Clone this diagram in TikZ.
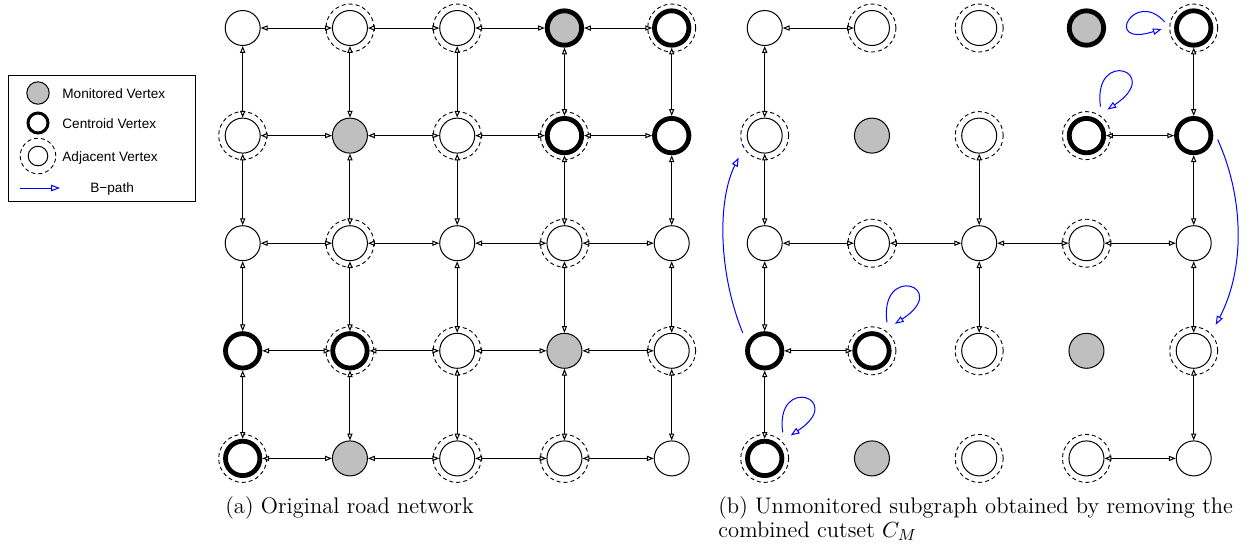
\documentclass[tikz,border=0pt]{standalone}
\usepackage{fontspec}
\newfontfamily\legfont{Liberation Sans}
\usetikzlibrary{arrows.meta,calc}
\begin{document}
\begin{tikzpicture}[x=0.5pt,y=-0.5pt,
  vtx/.style={circle,draw,line width=0.5pt,inner sep=0pt,minimum size=17.5pt,fill=white},
  mon/.style={fill=black!25},
  cen/.style={line width=2.4pt,minimum size=17.2pt},
  ringst/.style={circle,draw,fill=none,line width=0.45pt,dash pattern=on 2pt off 1.5pt,inner sep=0pt,minimum size=24pt},
  ringed/.style={label={[ringst]center:}},
  tP/.style={},
  tA/.style={ringed},
  tM/.style={mon},
  tC/.style={cen},
  tMC/.style={mon,cen},
  tCA/.style={cen,ringed},
  edge/.style={line width=0.5pt,{Triangle[length=3.4pt,width=2.6pt,fill=white]}-{Triangle[length=3.4pt,width=2.6pt,fill=white]}},
  bpath/.style={blue,line width=0.5pt,-{Triangle[length=4.4pt,width=3.2pt,fill=white]}},
  legtxt/.style={font=\legfont\fontsize{6.8}{8}\selectfont,inner sep=0pt,anchor=base west},
  captxt/.style={font=\fontsize{11.27}{12}\selectfont,inner sep=0pt,anchor=north west,align=left}
  ]
\useasboundingbox (0,0) rectangle (1258,548);

% vertices of both grids
\foreach \r/\row in {0/{P,A,A,MC,CA},1/{A,M,A,CA,C},2/{P,A,P,A,P},3/{C,CA,A,M,A},4/{CA,M,A,A,P}}{
  \foreach \t [count=\c from 0] in \row {
    \node[vtx,t\t] (a-\r-\c) at ({242.7+107.25*\c},{28+107.6*\r}) {};
    \node[vtx,t\t] (b-\r-\c) at ({764.7+107.25*\c},{28+107.6*\r}) {};
  }
}

% (a) full grid
\foreach \r in {0,...,4}{
  \foreach \c/\d in {0/1,1/2,2/3,3/4}{
    \draw[edge] (a-\r-\c) -- (a-\r-\d);
    \draw[edge] (a-\c-\r) -- (a-\d-\r);
  }
}

% (b) unmonitored subgraph
\foreach \p/\q in {0-0/0-1,3-0/3-1,1-3/1-4,2-0/2-1,2-1/2-2,2-2/2-3,2-3/2-4,4-3/4-4,
                   0-0/1-0,1-0/2-0,2-0/3-0,3-0/4-0,1-2/2-2,2-2/3-2,
                   0-4/1-4,1-4/2-4,2-4/3-4,3-4/4-4}{
  \draw[edge] (b-\p) -- (b-\q);
}

% B-paths
\draw[bpath] ($(b-0-4)+(-29,-6)$) .. controls ($(b-0-4)+(-59,-40)$) and ($(b-0-4)+(-92,20)$) .. ($(b-0-4)+(-32,1)$);
\draw[bpath] ($(b-1-3)+(14,-29)$) .. controls ($(b-1-3)+(6,-88)$) and ($(b-1-3)+(78,-64)$) .. ($(b-1-3)+(21,-26)$);
\draw[bpath] ($(b-3-1)+(15,-28.5)$) .. controls ($(b-3-1)+(7,-88)$) and ($(b-3-1)+(80,-64)$) .. ($(b-3-1)+(23,-27)$);
\draw[bpath] ($(b-4-0)+(18,-26)$) .. controls ($(b-4-0)+(10,-84)$) and ($(b-4-0)+(82,-60)$) .. ($(b-4-0)+(26,-23)$);
\draw[bpath] ($(b-3-0)+(-22,-18)$) .. controls ($(b-3-0)+(-47,-80)$) and ($(b-1-0)+(-47,64)$) .. ($(b-1-0)+(-26,22)$);
\draw[bpath] ($(b-1-4)+(24,4)$) .. controls ($(b-1-4)+(51,64)$) and ($(b-3-4)+(51,-81)$) .. ($(b-3-4)+(22,-26)$);

% legend
\node[draw,line width=0.5pt,minimum width=93.5pt,minimum height=63pt,inner sep=0pt] (legend) at (101.5,138) {};
\node[vtx,mon,minimum size=11.2pt] (lm) at (38,93) {};
\node[vtx,line width=1.5pt,minimum size=10pt] (lc) at (38,123) {};
\node[vtx,minimum size=9.8pt,label={[ringst,minimum size=17.8pt]center:}] (la) at (38,156) {};
\coordinate (lb1) at (20,188);
\coordinate (lb2) at (60,188);
\draw[bpath] (lb1) -- (lb2);
\node[legtxt] (tm) at (62,98.3) {Monitored Vertex};
\node[legtxt] (tc) at (62,128.3) {Centroid Vertex};
\node[legtxt] (ta) at (62,161.5) {Adjacent Vertex};
\node[legtxt] (tb) at (90,192.7) {B−path};

% captions
\node[captxt] (capa) at (225,496) {(a) Original road network};
\node[captxt] (capb) at (718,496) {(b) Unmonitored subgraph obtained by removing the\\combined cutset $C_M$};
\end{tikzpicture}
\end{document}
